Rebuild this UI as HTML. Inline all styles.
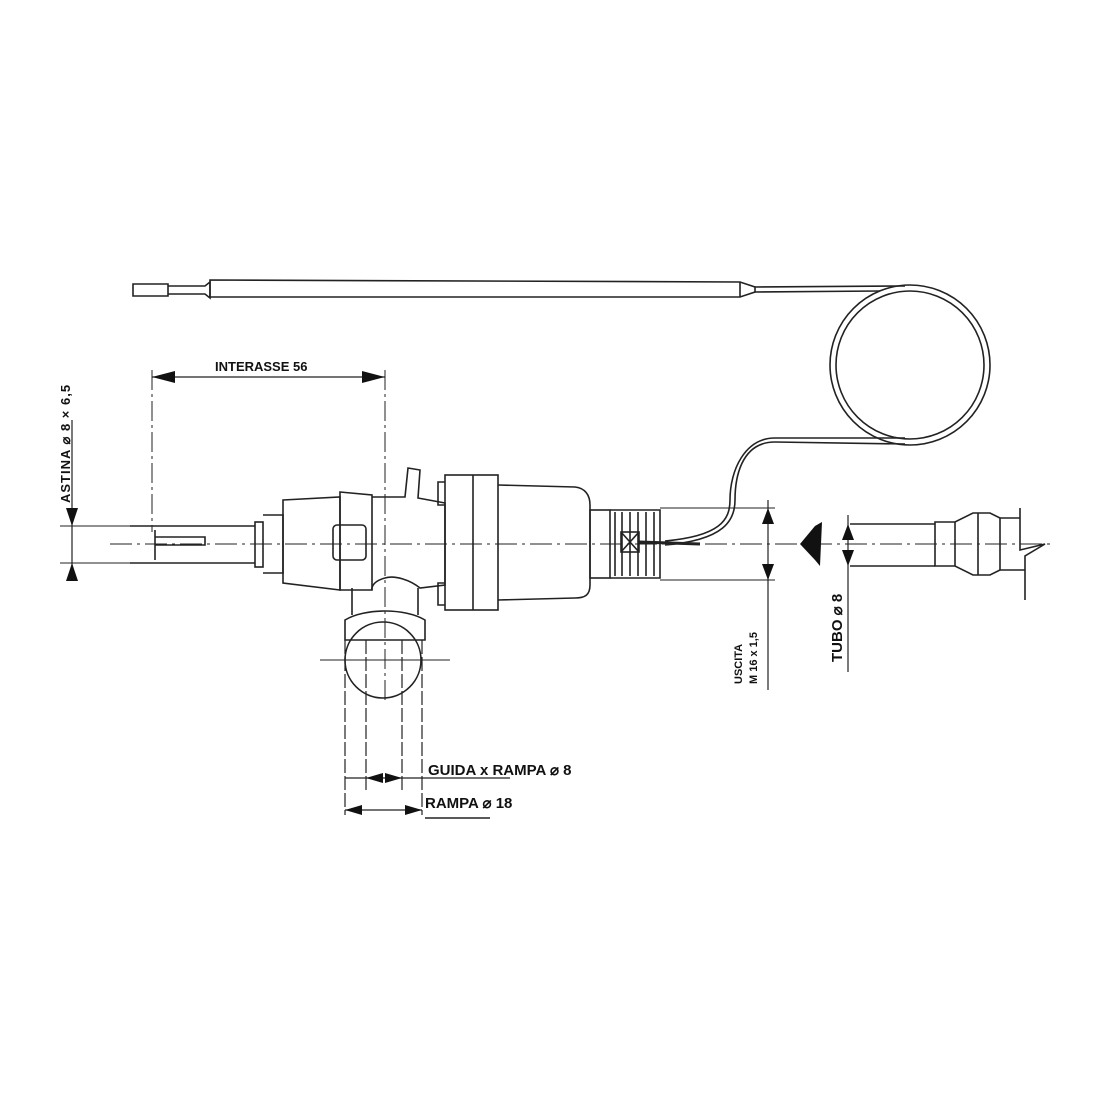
<!DOCTYPE html>
<html><head><meta charset="utf-8"><style>
html,body{margin:0;padding:0;background:#fff;}
svg{display:block}
text{font-family:"Liberation Sans",sans-serif;font-weight:bold;fill:#111}
</style></head><body>
<svg width="1100" height="1100" viewBox="0 0 1100 1100" xmlns="http://www.w3.org/2000/svg">
<g fill="none" stroke="#222" stroke-width="1.6">
<!-- sensor bulb -->
<path d="M133,284 L168,284 L168,296 L133,296 Z"/>
<path d="M168,286 L205,286 L210,282 L210,298 L205,294 L168,294"/>
<path d="M210,280 L740,282 L755,287 L755,292 L740,297 L210,297 Z"/>
<line x1="740" y1="282" x2="740" y2="297"/>
<path d="M755,287 L905,286 M755,292 L880,291"/>
<!-- coil -->
<circle cx="910" cy="365" r="80"/>
<circle cx="910" cy="365" r="74"/>
<path d="M905,444 L775,442 C740,442 735,480 735,500 C735,520 725,540 665,545"/>
<path d="M905,438 L775,438 C745,438 730,470 730,500 C730,520 720,536 665,541"/>
<!-- axis -->
<line x1="110" y1="544" x2="1050" y2="544" stroke-dasharray="22,5,3,5" stroke-width="1"/>
<!-- shaft -->
<path d="M130,526 L255,526 M130,563 L255,563"/>
<path d="M155,530 L155,560 M155,537 L205,537 L205,545 L155,545"/>
<rect x="255" y="522" width="8" height="45"/>
<path d="M263,515 L283,515 L283,573 L263,573"/>
<!-- body -->
<path d="M283,500 L340,497 L340,590 L283,583 Z"/>
<path d="M340,492 L372,495 L372,590 L340,590 Z"/>
<rect x="333" y="525" width="33" height="35" rx="4"/>
<path d="M372,497 L405,497 L408,468 L420,470 L418,498 L445,503 L445,585 L420,588 C410,580 395,575 385,578 C370,582 372,590 372,590"/>
<rect x="445" y="475" width="53" height="135"/>
<line x1="473" y1="475" x2="473" y2="610"/>
<path d="M445,482 L438,482 L438,505 L445,505 M445,583 L438,583 L438,605 L445,605"/>
<path d="M498,485 L575,487 C585,488 590,495 590,505 L590,585 C590,595 585,598 575,598 L498,600"/>
<rect x="590" y="510" width="20" height="68"/>
<path d="M610,510 L660,510 L660,578 L610,578"/>
<path d="M615,512 L615,576 M622,512 L622,576 M630,512 L630,576 M638,512 L638,576 M646,512 L646,576 M654,512 L654,576"/>
<rect x="621" y="532" width="18" height="20"/>
<path d="M621,532 L639,552 M639,532 L621,552"/>
<line x1="639" y1="542" x2="700" y2="544" stroke-width="3"/>
<!-- pipe -->
<path d="M352,588 L352,615 M418,588 L418,615"/>
<path d="M345,640 L345,620 C365,608 405,608 425,620 L425,640 Z"/>
<circle cx="383" cy="660" r="38"/>
<line x1="320" y1="660" x2="450" y2="660" stroke-width="1"/>
<path d="M345,640 L345,815 M366,640 L366,790 M402,640 L402,790 M422,640 L422,815" stroke-width="1.2" stroke-dasharray="14,3"/>
<!-- tube right -->
<path d="M850,524 L935,524 M850,566 L935,566"/>
<path d="M935,522 L955,522 L973,513 L990,513 L1000,518 L1000,570 L990,575 L973,575 L955,566 L935,566 Z"/>
<line x1="955" y1="522" x2="955" y2="566"/><line x1="978" y1="513" x2="978" y2="575"/>
<path d="M1000,518 L1020,518 M1000,570 L1025,570 M1020,508 L1020,550 L1045,544 L1025,556 L1025,600"/>
<!-- dims -->
<path d="M152,370 L152,532 M385,370 L385,700" stroke-width="1" stroke-dasharray="20,4,3,4"/>
<line x1="152" y1="377" x2="385" y2="377" stroke-width="1.2"/>
<line x1="72" y1="420" x2="72" y2="580" stroke-width="1.2"/>
<path d="M60,526 L130,526 M60,563 L130,563" stroke-width="1"/>
<path d="M660,508 L775,508 M660,580 L775,580" stroke-width="1"/>
<line x1="768" y1="500" x2="768" y2="690" stroke-width="1.2"/>
<line x1="848" y1="515" x2="848" y2="672" stroke-width="1.2"/>
<line x1="345" y1="778" x2="510" y2="778" stroke-width="1.2"/>
<line x1="345" y1="810" x2="422" y2="810" stroke-width="1.2"/>
<path d="M425,818 L490,818" stroke-width="1.5"/>
</g>
<g fill="#111">
<path d="M152,377 L175,371 L175,383 Z"/><path d="M385,377 L362,371 L362,383 Z"/>
<path d="M72,526 L66,508 L78,508 Z"/><path d="M72,563 L66,581 L78,581 Z"/>
<path d="M768,508 L762,524 L774,524 Z"/><path d="M768,580 L762,564 L774,564 Z"/>
<path d="M848,524 L842,540 L854,540 Z"/><path d="M848,566 L842,550 L854,550 Z"/>
<path d="M800,544 L815,526 L822,522 L820,566 L815,560 Z"/>
<path d="M366,778 L383,773 L383,783 Z"/><path d="M402,778 L385,773 L385,783 Z"/>
<path d="M345,810 L362,805 L362,815 Z"/><path d="M422,810 L405,805 L405,815 Z"/>
</g>
<text x="215" y="371" font-size="13">INTERASSE 56</text>
<text transform="translate(70,503) rotate(-90)" font-size="13" letter-spacing="1">ASTINA ⌀ 8 × 6,5</text>
<text transform="translate(742,684) rotate(-90)" font-size="11" font-weight="normal">USCITA</text>
<text transform="translate(757,684) rotate(-90)" font-size="11" font-weight="normal">M 16 x 1,5</text>
<text transform="translate(842,662) rotate(-90)" font-size="15">TUBO ⌀ 8</text>
<text x="428" y="775" font-size="15">GUIDA x RAMPA ⌀ 8</text>
<text x="425" y="808" font-size="15">RAMPA ⌀ 18</text>
</svg>
</body></html>
